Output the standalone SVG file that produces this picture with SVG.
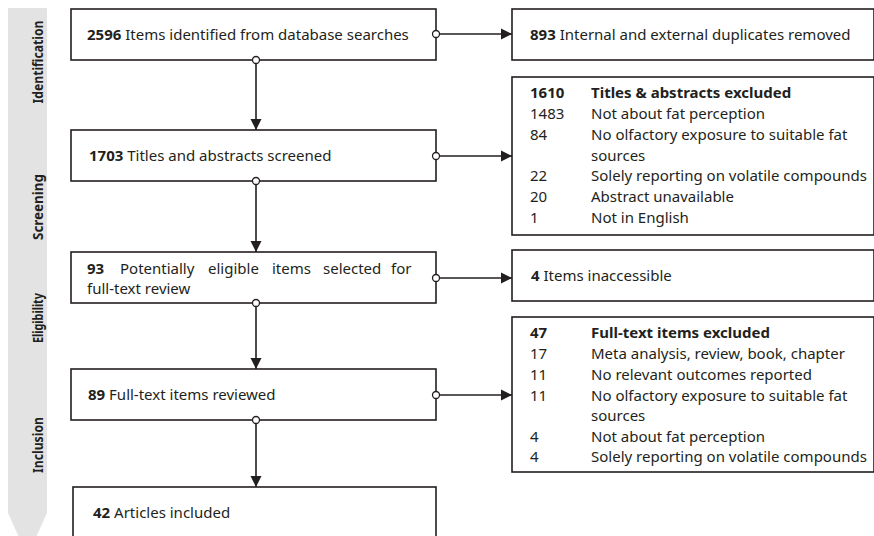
<svg xmlns="http://www.w3.org/2000/svg" width="874" height="536" viewBox="0 0 874 536">
<defs>
<style>
.box{fill:#fff;stroke:#231f20;stroke-width:1.6}
.t{font-family:"Noto Sans","Open Sans",sans-serif;font-size:15px;fill:#231f20}
.b{font-weight:bold}
.lab{font-family:"Noto Sans","Open Sans",sans-serif;font-size:14px;font-weight:bold;fill:#231f20;text-anchor:middle}
.ln{stroke:#231f20;stroke-width:1.6;fill:none;marker-end:url(#ah)}
.dot{fill:#fff;stroke:#231f20;stroke-width:1.3}
</style>
<marker id="ah" markerUnits="userSpaceOnUse" markerWidth="12" markerHeight="12" refX="11" refY="5.5" orient="auto" viewBox="0 0 12 11">
<path d="M0,0 L11,5.5 L0,11 z" fill="#231f20"/>
</marker>
</defs>
<g id="band">
<path d="M8,8 H47 V513 L27.5,556 L8,513 Z" fill="#e3e3e3"/>
<text class="lab" transform="translate(42.5,62) rotate(-90)" textLength="83" lengthAdjust="spacingAndGlyphs">Identification</text>
<text class="lab" transform="translate(42.5,207) rotate(-90)" textLength="66" lengthAdjust="spacingAndGlyphs">Screening</text>
<text class="lab" transform="translate(42.5,318) rotate(-90)" textLength="50" lengthAdjust="spacingAndGlyphs">Eligibility</text>
<text class="lab" transform="translate(42.5,445) rotate(-90)" textLength="56" lengthAdjust="spacingAndGlyphs">Inclusion</text>
</g>
<g id="n1">
<rect class="box" x="71" y="9" width="365" height="51"/>
<text class="t" x="87" y="40"><tspan class="b">2596</tspan> Items identified from database searches</text>
</g>
<g id="n2">
<rect class="box" x="512" y="9" width="362" height="51"/>
<text class="t" x="530" y="40"><tspan class="b">893</tspan> Internal and external duplicates removed</text>
</g>
<g id="n3">
<rect class="box" x="71" y="130" width="365" height="51"/>
<text class="t" x="89" y="161"><tspan class="b">1703</tspan> Titles and abstracts screened</text>
</g>
<g id="n4">
<rect class="box" x="512" y="77" width="362" height="158"/>
<text class="t b" x="530" y="98">1610</text><text class="t b" x="591" y="98">Titles &amp; abstracts excluded</text>
<text class="t" x="530" y="119">1483</text><text class="t" x="591" y="119">Not about fat perception</text>
<text class="t" x="530" y="140">84</text><text class="t" x="591" y="140">No olfactory exposure to suitable fat</text>
<text class="t" x="591" y="161">sources</text>
<text class="t" x="530" y="181">22</text><text class="t" x="591" y="181">Solely reporting on volatile compounds</text>
<text class="t" x="530" y="202">20</text><text class="t" x="591" y="202">Abstract unavailable</text>
<text class="t" x="530" y="223">1</text><text class="t" x="591" y="223">Not in English</text>
</g>
<g id="n5">
<rect class="box" x="71" y="252" width="365" height="51"/>
<text class="t" y="274"><tspan class="b" x="87">93</tspan><tspan x="120">Potentially</tspan><tspan x="208">eligible</tspan><tspan x="272">items</tspan><tspan x="323">selected</tspan><tspan x="391">for</tspan></text>
<text class="t" x="87" y="294">full-text review</text>
</g>
<g id="n6">
<rect class="box" x="512" y="250" width="362" height="51"/>
<text class="t" x="531" y="281"><tspan class="b">4</tspan> Items inaccessible</text>
</g>
<g id="n7">
<rect class="box" x="71" y="369" width="365" height="51"/>
<text class="t" x="88" y="400"><tspan class="b">89</tspan> Full-text items reviewed</text>
</g>
<g id="n8">
<rect class="box" x="512" y="317" width="362" height="155"/>
<text class="t b" x="530" y="338">47</text><text class="t b" x="591" y="338">Full-text items excluded</text>
<text class="t" x="530" y="359">17</text><text class="t" x="591" y="359">Meta analysis, review, book, chapter</text>
<text class="t" x="530" y="380">11</text><text class="t" x="591" y="380">No relevant outcomes reported</text>
<text class="t" x="530" y="401">11</text><text class="t" x="591" y="401">No olfactory exposure to suitable fat</text>
<text class="t" x="591" y="421">sources</text>
<text class="t" x="530" y="442">4</text><text class="t" x="591" y="442">Not about fat perception</text>
<text class="t" x="530" y="462">4</text><text class="t" x="591" y="462">Solely reporting on volatile compounds</text>
</g>
<g id="n9">
<rect class="box" x="73" y="487" width="363" height="60"/>
<text class="t" x="93" y="518"><tspan class="b">42</tspan> Articles included</text>
</g>
<g id="connectors">
<path class="ln" d="M436,34 H512"/>
<path class="ln" d="M256,60 V130"/>
<path class="ln" d="M436,156 H512"/>
<path class="ln" d="M256,181 V252"/>
<path class="ln" d="M436,278 H512"/>
<path class="ln" d="M256,303 V369"/>
<path class="ln" d="M436,395 H512"/>
<path class="ln" d="M256,420 V487"/>
<circle class="dot" cx="436" cy="34" r="3.5"/>
<circle class="dot" cx="256" cy="60" r="3.5"/>
<circle class="dot" cx="436" cy="156" r="3.5"/>
<circle class="dot" cx="256" cy="181" r="3.5"/>
<circle class="dot" cx="436" cy="278" r="3.5"/>
<circle class="dot" cx="256" cy="303" r="3.5"/>
<circle class="dot" cx="436" cy="395" r="3.5"/>
<circle class="dot" cx="256" cy="420" r="3.5"/>
</g>
</svg>
